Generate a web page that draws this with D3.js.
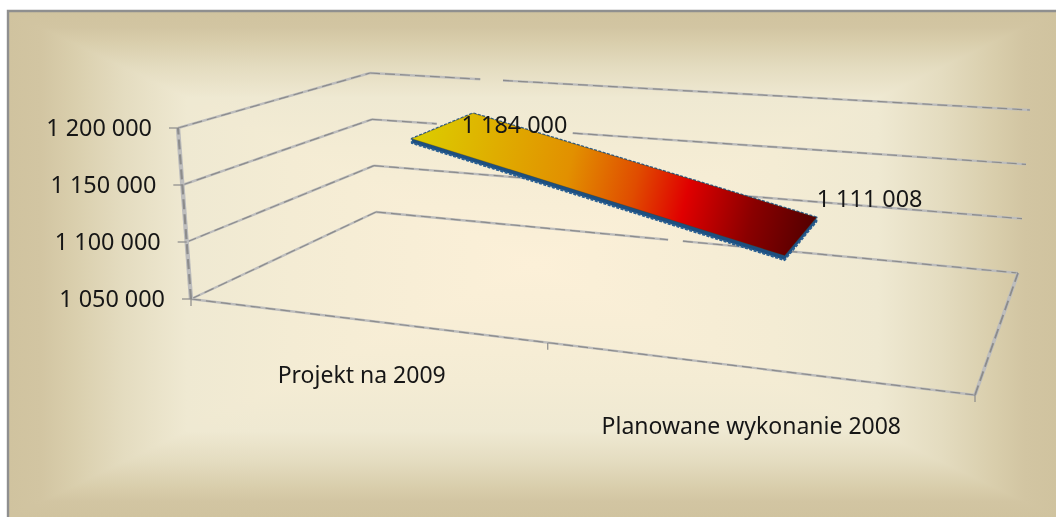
<!DOCTYPE html>
<html><head><meta charset="utf-8">
<script src="https://cdn.jsdelivr.net/npm/d3@7/dist/d3.min.js"></script>
<style>html,body{margin:0;padding:0;background:#fff;overflow:hidden}svg{display:block}
text{font-family:"Noto Sans",sans-serif;fill:#161616}</style></head><body>
<svg id="c" width="1056" height="517"></svg>
<script>
const categories = ["Projekt na 2009", "Planowane wykonanie 2008"];
const values = [1184000, 1111008];
const valueLabels = ["1 184 000", "1 111 008"];
const tickValues = [1050000, 1100000, 1150000, 1200000];
const tickLabels = ["1 050 000", "1 100 000", "1 150 000", "1 200 000"];

const svg = d3.select("#c");
const W = 1056, H = 517;

// --- projection of the 3D box onto the picture
const corners = {
  fl0:[191,299], fl1:[178,128], bl0:[376,212], bl1:[370,73],
  br0:[1018,273], br1:[1030,110], fr0:[975,395], fr1:[997,195]
};
const mix = (a,b,t)=>[a[0]+(b[0]-a[0])*t, a[1]+(b[1]-a[1])*t];
const warp = u => 0.835*u/(1+(0.835-1)*u);
function project(u,v,h){
  const uu = warp(u);
  const f = mix(mix(corners.fl0,corners.fl1,h), mix(corners.fr0,corners.fr1,h), uu);
  const b = mix(mix(corners.bl0,corners.bl1,h), mix(corners.br0,corners.br1,h), uu);
  return mix(f,b,v);
}
const xScale = d3.scalePoint().domain(categories).range([0,1]).padding(0.5);
const yScale = d3.scaleLinear().domain([1050000,1200000]).range([0,1]);
const depth = d3.scaleLinear().domain([0,1]).range([0.35,0.74]);
const line = d3.line();

// --- background
const defs = svg.append("defs");
function grad(id,x2,y2,stops){
  const g = defs.append("linearGradient").attr("id",id).attr("x1",0).attr("y1",0).attr("x2",x2).attr("y2",y2);
  stops.forEach(s=>g.append("stop").attr("offset",s[0]).attr("stop-color",s[1]));
}
const bgStops = [[0,"#d0c39f"],[0.03,"#d2c5a2"],[0.06,"#d9ceac"],[0.11,"#e4dcc0"],[0.17,"#efe9d2"],[0.27,"#f4ecd4"],[0.5,"#fcf0d8"],
                 [0.73,"#f4ecd4"],[0.83,"#efe9d2"],[0.89,"#e4dcc0"],[0.94,"#d9ceac"],[0.97,"#d2c5a2"],[1,"#d0c39f"]];
grad("bgH",1,0,bgStops); grad("bgV",0,1,bgStops);
svg.append("rect").attr("x",9).attr("y",12).attr("width",W-9).attr("height",H-12).attr("fill","url(#bgH)");
svg.append("rect").attr("x",9).attr("y",12).attr("width",W-9).attr("height",H-12).attr("fill","url(#bgV)").style("mix-blend-mode","darken");
svg.append("path").attr("d",line([[8,H],[8,11],[W,11]])).attr("fill","none").attr("stroke","#8f8f8f").attr("stroke-width",2.4);

defs.append("filter").attr("id","soft").attr("filterUnits","userSpaceOnUse").attr("x",0).attr("y",0).attr("width",W).attr("height",H)
  .append("feGaussianBlur").attr("stdDeviation",0.5);

const chart = svg.append("g");
function fuzzy(pts,w){
  const g = chart.append("g").attr("filter","url(#soft)");
  g.append("path").attr("d",line(pts)).attr("fill","none").attr("stroke","#bdbdbd").attr("stroke-width",w);
  g.append("path").attr("d",line(pts)).attr("fill","none").attr("stroke","#8c8c8c").attr("stroke-width",w*0.5).attr("stroke-dasharray","10 5");
}

// --- walls and gridlines; the gaps are the breaks seen in the back-wall lines
const gridGaps = {1200000:[[0.167,0.2015]],1150000:[[0.099,0.307]],1050000:[[0.455,0.478]]};
tickValues.forEach(t=>{
  const h = yScale(t);
  const a = project(0,1,h), b = project(1,1,h);
  let start = 0;
  (gridGaps[t]||[]).concat([[1,1]]).forEach(g=>{
    fuzzy([mix(a,b,start),mix(a,b,g[0])],2.4);
    start = g[1];
  });
  fuzzy([project(0,0,h),a],2.4);
});
fuzzy([project(0,0,0),project(1,0,0)],2.4);
fuzzy([project(1,0,0),project(1,1,0)],3.6);
fuzzy([project(0,0,0),project(0,0,1)],4.4);

// --- axis ticks and labels
tickValues.forEach((t,i)=>{
  const p = project(0,0,yScale(t));
  chart.append("line").attr("x1",p[0]-9).attr("x2",p[0]).attr("y1",p[1]).attr("y2",p[1]).attr("stroke","#8a8a8a").attr("stroke-width",1.2);
  chart.append("text").attr("x",p[0]-26).attr("y",p[1]+7.5).attr("text-anchor","end").attr("font-size",23.4).text(tickLabels[i]);
});
[0,0.5,1].forEach(u=>{
  const p = project(u,0,0);
  chart.append("line").attr("x1",p[0]).attr("x2",p[0]).attr("y1",p[1]).attr("y2",p[1]+7).attr("stroke","#8a8a8a").attr("stroke-width",1.2);
});
const catDy = [63,66];
categories.forEach((c,i)=>{
  const p = project(xScale(c),0,0);
  chart.append("text").attr("x",p[0]).attr("y",p[1]+catDy[i]).attr("text-anchor","middle").attr("font-size",23).text(c);
});

// --- ribbon
const ribbonThickness = 3800;
const quad = dv => {
  const p = i => [xScale(categories[i]), yScale(values[i]-dv)];
  return [project(p(0)[0],depth(0),p(0)[1]), project(p(0)[0],depth(1),p(0)[1]),
          project(p(1)[0],depth(1),p(1)[1]), project(p(1)[0],depth(0),p(1)[1])];
};
const upper = quad(0), lower = quad(ribbonThickness);
const gr = defs.append("linearGradient").attr("id","rib").attr("gradientUnits","userSpaceOnUse")
  .attr("x1",upper[0][0]+10).attr("y1",upper[0][1]-10).attr("x2",upper[2][0]-5).attr("y2",upper[2][1]+8);
[[0,"#dccb00"],[0.38,"#e29000"],[0.55,"#e04c00"],[0.68,"#e00000"],[0.85,"#8a0000"],[1,"#560000"]]
  .forEach(s=>gr.append("stop").attr("offset",s[0]).attr("stop-color",s[1]));
const hull = d3.polygonHull(upper.concat(lower));
chart.append("path").attr("d",line(hull)+"Z").attr("fill","#1d4f80").attr("stroke","#2a5f92").attr("stroke-width",2.2).attr("stroke-dasharray","3 1.5").attr("stroke-linejoin","round");
chart.append("path").attr("d",line(upper)+"Z").attr("fill","url(#rib)").attr("stroke","#4a3a10").attr("stroke-opacity",0.35).attr("stroke-width",0.8);

// --- data labels
const labelDx = [72,69], labelDy = [7,-29];
categories.forEach((c,i)=>{
  const u = xScale(c), h = yScale(values[i]);
  const p = project(u,depth(0.5),h);
  chart.append("text").attr("x",p[0]+labelDx[i]).attr("y",p[1]+labelDy[i]).attr("text-anchor","middle").attr("font-size",23.4).text(valueLabels[i]);
});
</script></body></html>
